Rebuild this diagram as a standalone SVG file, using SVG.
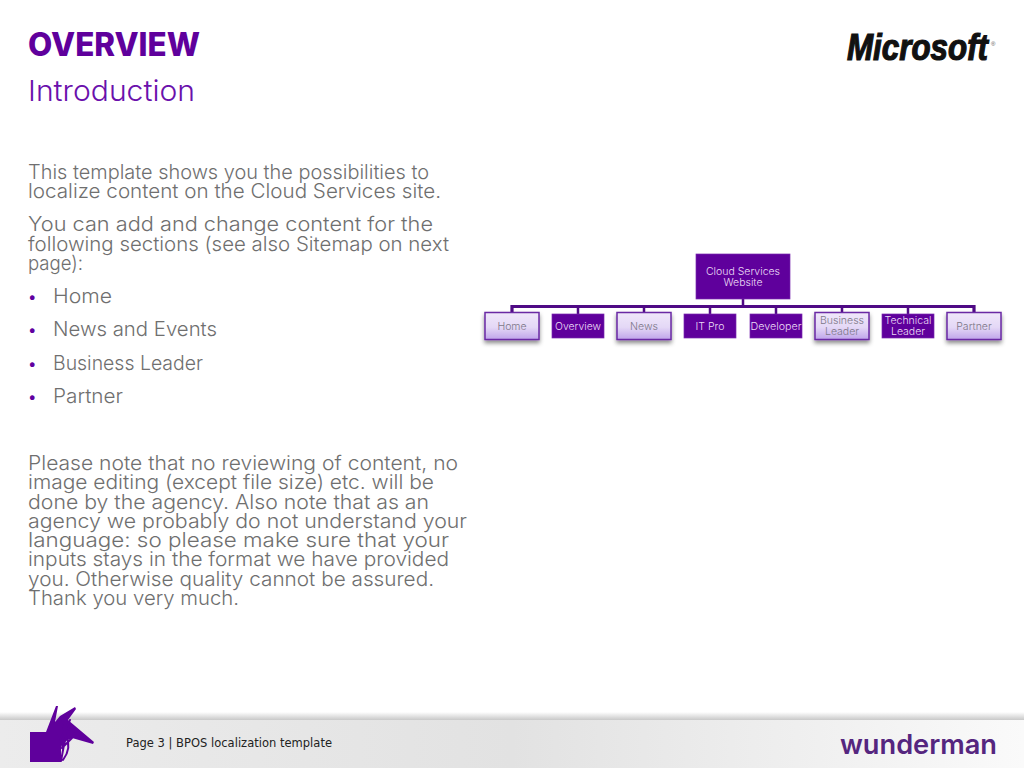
<svg xmlns="http://www.w3.org/2000/svg" width="1024" height="768" viewBox="0 0 1024 768">
<style>
text{font-family:Inter,"DejaVu Sans","Liberation Sans",sans-serif}
.body{font-size:20px;font-weight:300;fill:#6f6f6f}
.bul{font-size:15px;fill:#6000a0}
.n{font-size:10.500px;font-weight:300;text-anchor:middle}
.d{fill:#5f009c;stroke:#7a28b0;stroke-width:.7}
.l{fill:url(#lg);stroke:#6a2aa4;stroke-width:1.500;filter:url(#sh)}
.dt{fill:#ecdcf6}
.lt{fill:#7d7888}
.c{fill:none;stroke:#4f0a85;stroke-width:2.500}
.m{fill:none;stroke:#5f009c;stroke-width:2;stroke-linecap:round}
</style>
<defs>
<linearGradient id="lg" x1="0" y1="0" x2="0" y2="1"><stop offset="0" stop-color="#f0e8fa"/><stop offset=".55" stop-color="#e4d8f6"/><stop offset="1" stop-color="#bfa4ea"/></linearGradient>
<linearGradient id="ft" x1="0" y1="0" x2="1" y2="0"><stop offset="0" stop-color="#ececec"/><stop offset=".5" stop-color="#e2e2e2"/><stop offset=".8" stop-color="#f0f0f0"/><stop offset="1" stop-color="#fafafa"/></linearGradient>
<linearGradient id="fs" x1="0" y1="0" x2="0" y2="1"><stop offset="0" stop-color="#ffffff"/><stop offset="1" stop-color="#c8c8c8"/></linearGradient>
<filter id="sh" x="-20%" y="-20%" width="140%" height="170%"><feDropShadow dx="0" dy="3" stdDeviation="2" flood-color="#000" flood-opacity=".45"/></filter>
</defs>
<rect width="1024" height="768" fill="#fff"/>
<g id="footer">
<rect x="0" y="712" width="1024" height="8" fill="url(#fs)"/>
<rect x="0" y="720" width="1024" height="48" fill="url(#ft)"/>
<rect x="30" y="732" width="31" height="30" fill="#5f009c"/>
<path fill="#5f009c" d="M46 732L56 706L58 706L55 722L60 716L75 707L76 709L68 720L94 742L93 744L72 738L66 741L62 750L60 740L56 732Z"/>
<path class="m" d="M66 736Q72 748 63 760M60 720L66 734L61 761M58 724L80 734M62 748L72 738M70 720L60 740"/>
<text x="126" y="747" font-size="11.500" fill="#222" textLength="206" style="font-family:'DejaVu Sans',sans-serif">Page 3 | BPOS localization template</text>
<text x="840" y="754" font-size="27" font-weight="600" fill="#55267f" textLength="157" lengthAdjust="spacingAndGlyphs">wunderman</text>
</g>
<g id="header">
<text x="28" y="56" font-size="32" font-weight="800" fill="#5f009c" textLength="172" lengthAdjust="spacingAndGlyphs">OVERVIEW</text>
<text x="28" y="101" font-size="29" font-weight="300" fill="#6a10ac" textLength="167" lengthAdjust="spacingAndGlyphs">Introduction</text>
<text x="847" y="59.500" font-size="36" font-weight="bold" font-style="italic" fill="#111" stroke="#111" stroke-width="1.200" textLength="141" lengthAdjust="spacingAndGlyphs" style="font-family:'Liberation Sans',sans-serif">Microsoft</text>
<text x="991" y="46" font-size="6" fill="#555" style="font-family:'Liberation Sans',sans-serif">®</text>
</g>
<g id="body-text">
<text class="body" lengthAdjust="spacingAndGlyphs" x="28" y="179" textLength="401">This template shows you the possibilities to</text>
<text class="body" lengthAdjust="spacingAndGlyphs" x="28" y="198" textLength="413">localize content on the Cloud Services site.</text>
<text class="body" lengthAdjust="spacingAndGlyphs" x="28" y="231" textLength="405">You can add and change content for the</text>
<text class="body" lengthAdjust="spacingAndGlyphs" x="28" y="251" textLength="421">following sections (see also Sitemap on next</text>
<text class="body" lengthAdjust="spacingAndGlyphs" x="28" y="270" textLength="55">page):</text>
<text class="bul" x="28" y="302">•</text><text class="body" lengthAdjust="spacingAndGlyphs" x="53" y="303" textLength="59">Home</text>
<text class="bul" x="28" y="335">•</text><text class="body" lengthAdjust="spacingAndGlyphs" x="53" y="336" textLength="164">News and Events</text>
<text class="bul" x="28" y="369">•</text><text class="body" lengthAdjust="spacingAndGlyphs" x="53" y="370" textLength="150">Business Leader</text>
<text class="bul" x="28" y="402">•</text><text class="body" lengthAdjust="spacingAndGlyphs" x="53" y="403" textLength="70">Partner</text>
<text class="body" lengthAdjust="spacingAndGlyphs" x="28" y="470" textLength="430">Please note that no reviewing of content, no</text>
<text class="body" lengthAdjust="spacingAndGlyphs" x="28" y="489" textLength="406">image editing (except file size) etc. will be</text>
<text class="body" lengthAdjust="spacingAndGlyphs" x="28" y="509" textLength="401">done by the agency. Also note that as an</text>
<text class="body" lengthAdjust="spacingAndGlyphs" x="28" y="528" textLength="439">agency we probably do not understand your</text>
<text class="body" lengthAdjust="spacingAndGlyphs" x="28" y="547" textLength="421">language: so please make sure that your</text>
<text class="body" lengthAdjust="spacingAndGlyphs" x="28" y="566" textLength="421">inputs stays in the format we have provided</text>
<text class="body" lengthAdjust="spacingAndGlyphs" x="28" y="586" textLength="406">you. Otherwise quality cannot be assured.</text>
<text class="body" lengthAdjust="spacingAndGlyphs" x="28" y="605" textLength="211">Thank you very much.</text>
</g>
<g id="connectors">
<path class="c" style="stroke-width:3.200" d="M512 312V306.500H974V312"/>
<path class="c" d="M743 299V306M578 306.500V314M644 306.500V312M710 306.500V314M776 306.500V314M842 306.500V312M908 306.500V314"/>
</g>
<g id="node-root"><rect class="d" x="696" y="254" width="94" height="45"/><text class="n dt" x="743" y="275">Cloud Services</text><text class="n dt" x="743" y="286">Website</text></g>
<g id="node-home"><rect class="l" x="485" y="312.500" width="54" height="27"/><text class="n lt" x="512" y="329.500">Home</text></g>
<g id="node-overview"><rect class="d" x="552" y="314" width="52" height="24"/><text class="n dt" x="578" y="329.500" textLength="46" lengthAdjust="spacingAndGlyphs">Overview</text></g>
<g id="node-news"><rect class="l" x="617" y="312.500" width="54" height="27"/><text class="n lt" x="644" y="329.500">News</text></g>
<g id="node-itpro"><rect class="d" x="684" y="314" width="52" height="24"/><text class="n dt" x="710" y="329.500">IT Pro</text></g>
<g id="node-developer"><rect class="d" x="750" y="314" width="52" height="24"/><text class="n dt" x="776" y="329.500" textLength="51" lengthAdjust="spacingAndGlyphs">Developer</text></g>
<g id="node-business"><rect class="l" x="815" y="312.500" width="54" height="27"/><text class="n lt" x="842" y="324">Business</text><text class="n lt" x="842" y="335">Leader</text></g>
<g id="node-technical"><rect class="d" x="882" y="314" width="52" height="24"/><text class="n dt" x="908" y="324" textLength="47" lengthAdjust="spacingAndGlyphs">Technical</text><text class="n dt" x="908" y="335">Leader</text></g>
<g id="node-partner"><rect class="l" x="947" y="312.500" width="54" height="27"/><text class="n lt" x="974" y="329.500">Partner</text></g>
</svg>
